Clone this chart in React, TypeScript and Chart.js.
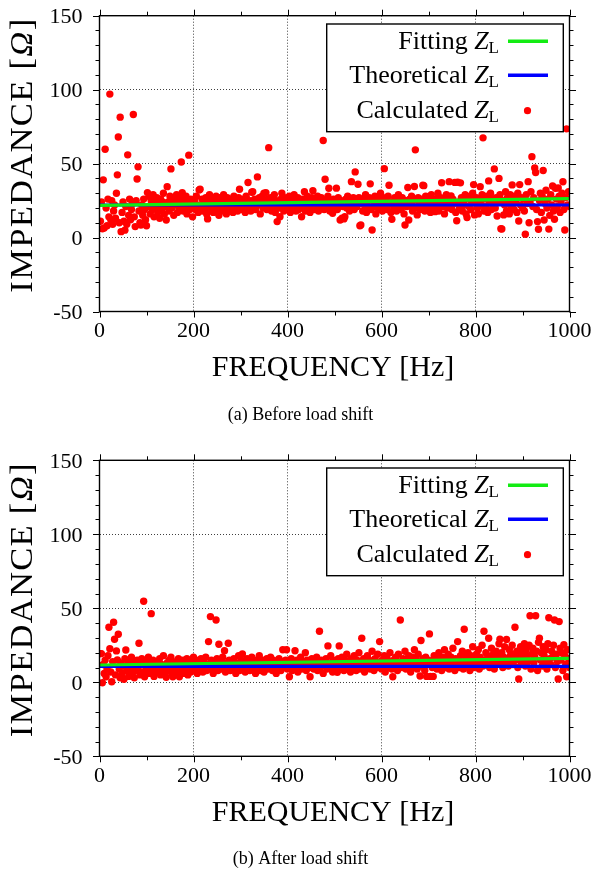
import React, { useEffect, useRef } from "react";
import { Chart, registerables } from "chart.js";
Chart.register(...registerables);

// ---------------- DATA ----------------
const freqHz = [
  2,4,6,8,10,12,14,16,18,20,22,24,26,28,30,32,34,36,38,40,
  42,44,46,48,50,52,54,56,58,60,62,64,66,68,70,72,74,76,78,80,
  82,84,86,88,90,92,94,96,98,100,102,104,106,108,110,112,114,116,118,120,
  122,124,126,128,130,132,134,136,138,140,142,144,146,148,150,152,154,156,158,160,
  162,164,166,168,170,172,174,176,178,180,182,184,186,188,190,192,194,196,198,200,
  202,204,206,208,210,212,214,216,218,220,222,224,226,228,230,232,234,236,238,240,
  242,244,246,248,250,252,254,256,258,260,262,264,266,268,270,272,274,276,278,280,
  282,284,286,288,290,292,294,296,298,300,302,304,306,308,310,312,314,316,318,320,
  322,324,326,328,330,332,334,336,338,340,342,344,346,348,350,352,354,356,358,360,
  362,364,366,368,370,372,374,376,378,380,382,384,386,388,390,392,394,396,398,400,
  402,404,406,408,410,412,414,416,418,420,422,424,426,428,430,432,434,436,438,440,
  442,444,446,448,450,452,454,456,458,460,462,464,466,468,470,472,474,476,478,480,
  482,484,486,488,490,492,494,496,498,500,502,504,506,508,510,512,514,516,518,520,
  522,524,526,528,530,532,534,536,538,540,542,544,546,548,550,552,554,556,558,560,
  562,564,566,568,570,572,574,576,578,580,582,584,586,588,590,592,594,596,598,600,
  602,604,606,608,610,612,614,616,618,620,622,624,626,628,630,632,634,636,638,640,
  642,644,646,648,650,652,654,656,658,660,662,664,666,668,670,672,674,676,678,680,
  682,684,686,688,690,692,694,696,698,700,702,704,706,708,710,712,714,716,718,720,
  722,724,726,728,730,732,734,736,738,740,742,744,746,748,750,752,754,756,758,760,
  762,764,766,768,770,772,774,776,778,780,782,784,786,788,790,792,794,796,798,800,
  802,804,806,808,810,812,814,816,818,820,822,824,826,828,830,832,834,836,838,840,
  842,844,846,848,850,852,854,856,858,860,862,864,866,868,870,872,874,876,878,880,
  882,884,886,888,890,892,894,896,898,900,902,904,906,908,910,912,914,916,918,920,
  922,924,926,928,930,932,934,936,938,940,942,944,946,948,950,952,954,956,958,960,
  962,964,966,968,970,972,974,976,978,980,982,984,986,988,990,992,994,996,998,1000,
];

// (a) Before load shift – calculated Z_L [ohm]
const calculatedBefore = [
  11,24,6,39,6.5,59.7,20,8,26,14, 97,12,25,9,18,22,13,30,42.4,68,
  10,81.4,4,17,24,11,5,21,9,55.9, 15,26,12,19,23,83.2,14,7.4,25,39.6,
  47.8,18,10,8.5,22,15,26,19,12,8, 30.4,21,27.7,16,25,19,29,14,23,20,
  27,17,22,13,26,19,24,30,16,21, 11.9,34.4,24,18,28,46.4,20,25,15,27,
  22,29,17,24,20,27,51.1,30.4,18,25, 21,28,16,23,55.7,19,26,22,14,24,
  25,19,28,22,17,32.2,32.7,21,26,18, 24,20,27,16,12.6,23,29,19,25,21,
  17,26,22,28,19,24,15,27,21,23, 18,29,22,25,16,27,20,24,19,26,
  22,17,28,23,20,25,18,27,32.7,21, 24,19,26,22,17,28,23,37.2,20,25,
  18,30.6,31,21,26,19,24,41,22,27, 16,23,28,20,30,25,30.4,19,26,60.8,
  22,27,18,24,21,29,17,25,10.8,23, 20,14.1,26,30,22,18,27,24,19,25,
  21,28,17,23,26,20,29,22,18,25, 27,19,24,21,14.1,26,22,31,18,24,
  28,20,25,17,23,27,31.7,21,19,26, 22,28,18,24,20,27,23,65.6,19,39.4,
  25,21,28,33.3,18,24,22,16.4,26,20, 23,33.4,19,27,22,11.9,25,13,21,12.6,
  14.1,26,20,28,23,18,25,37.8,22,27, 19,44.4,24,21,36,27,8,8.5,23,18,
  26,22,29,17,24,20,27,36.3,19,5.1, 25,21,28,16,23,26,19,24,30,22,
  18,27,46.6,21,25,19,28,35.4,23,17, 12.4,24,20,27,22,18,26,29,21,24,
  19,27,23,16,8.5,25,21,33.8,11.9,26, 22,28,18,25,34.5,59.3,20,15.3,27,23,
  19,26,22,35.4,35.1,18,28,24,20,27, 23,17,29,21,25,19,17.5,26,22,30,
  18,24,27,37.1,21,26,16,23,29,20, 25,37.8,22,28.1,19,26,23,37.3,17,11.4,
  37.4,24,20,37,27,18,25,22,29,16, 13.5,26,21,28,19,24,30,35.8,15.3,23,
  27,20,16,25,34.4,22,29,67.4,18,26, 21,28,17,38.3,24,30,19,26,22,46.4,
  20,27,14.6,24,40,29,6,5.8,25,15.3, 22,31,18,27,23,16,29,20,35.6,25,
  19,28,24,17,30,11.2,35.8,22,27,20, 26,18,2.2,29,23,37.8,10,24,31,54.7,
  21,27,47,44,19,10.8,5.6,25,30,17, 28,45.3,11.9,23,32,20,26,5.7,15,29,
  22,34.9,18,12.4,33.3,26,21,33.5,28,17, 24,30,37.7,19,5.1,27,73.5,22,31,21,
];

// (b) After load shift – calculated Z_L [ohm]
const calculatedAfter = [
  19.4,19.4,-0.3,12,6,15,3.8,9,18,37.2, 22.7,7,0.4,14,40.6,29.1,5,21.2,15.1,32.5,
  9,3,13,6,11,2,16,21.8,8,12, 4,14,9,17,6,11,3,13,8,15,
  10,26.4,5,12,16,7,54.8,3.8,11,14, 9,17,6,12,46.4,8,15,4,11,13,
  7,14,10,16,5,12,9,18,6,11, 3.4,13,8,15,10,17,6,3.8,12,9,
  14,7,11,16,3.8,13,8,10,15,6, 12,9,16,5,11,14,7,13,10,17,
  8,12,15,6,10,13,9,16,11,7, 14,10,17,8,12,27.5,9,44.4,15,11,
  6,13,10,42.1,16,8,25.7,12,14,9, 17,11,21.4,7,13,10,26.4,15,8,12,
  14,9,16,11,6,13,10,18,8,12, 15,19.1,9,13,7,11,16,10,14,8,
  12,17,9,14,11,6,15,10,13,18, 8,12,15,10,7,14,11,16,9,13,
  10,17,12,8,15,11,14,6,13,9, 16,11,8,14,22,12,10,15,22,9,
  13,3.8,11,16,8,14,12,21.3,10,15, 7,13,11,17,9,14,10,12,20,8,
  15,11,13,3.8,10,16,12,9,14,11, 17,8,13,34.5,10,15,12,6,14,11,
  16,9,24.6,13,10,18,12,7,15,11, 14,9,6.8,16,24.6,12,10,17,13,8,
  15,11,19,9,14,12,7,16,10,13, 18,11,8,15,12,20,9,14,29.8,11,
  16,7,13,10,18,12,15,9,14,21, 11,8,16,13,10,19,12,27.5,14,9,
  15,11,18,7,13,16,10,14,20,12, 9,3.8,15,11,17,13,8,19,12,42.1,
  14,10,16,12,21,9,15,11,18,13, 7,14,17,10,22,12,15,9,19,13,
  4.3,28.2,11,16,13,8,17,4,12,15, 32.7,4,14,10,4,18,12,16,9,14,
  20,11,15,8,17,13,22,10,16,12, 19,9,14,17,11,23,13,8,16,12,
  27.5,15,10,18,13,21,9,35.8,14,17, 11,20,15,8,18,13,24,10,16,12,
  19,14,22,9,17,13,25,11,34.5,15, 20,12,18,29.8,10,16,23,13,19,9,
  15,21,12,18,26,29.1,14,20,10,17, 24,13,29,16,11,22,18,14,25,12,
  19,37.2,15,21,10,2.2,17,24,13,20, 16,26,11,22,18,14,25,45,9,19,
  23,13,17,45,21,8,27,29.8,15,20, 11,24,18,14,22,9,26,43.6,16,12,
  21,17,25,42.1,10,19,14,2.2,41,23, 15,20,8,25.4,18,12,3.8,22,16,10,
];

// straight lines (endpoints)
const lineFreqHz = [0, 1000];
const fittingBefore = [21.8, 26.3];
const theoreticalBefore = [22, 22];
const fittingAfter = [11.7, 16.2];
const theoreticalAfter = [10.8, 10.8];

const xTickValues = [0, 200, 400, 600, 800, 1000];
const yTickValues = [-50, 0, 50, 100, 150];
const xMinorStep = 100;
const yMinorStep = 10;

const legendNames = ["Fitting", "Theoretical", "Calculated"];
const captions = ["(a) Before load shift", "(b) After load shift"];

// ---------------- DRAWING ----------------
const SERIF = "'Liberation Serif', 'Times New Roman', serif";
const W = 594;

type Run = { text: string; font: string; dy?: number };

function drawRuns(ctx: CanvasRenderingContext2D, runs: Run[], x: number, y: number, align: "left" | "center" | "right") {
  ctx.textAlign = "left";
  let total = 0;
  const widths = runs.map((r) => {
    ctx.font = r.font;
    const w = ctx.measureText(r.text).width;
    total += w;
    return w;
  });
  let cx = align === "left" ? x : align === "center" ? x - total / 2 : x - total;
  runs.forEach((r, i) => {
    ctx.font = r.font;
    ctx.fillText(r.text, cx, y + (r.dy || 0));
    cx += widths[i];
  });
}

interface PanelSpec {
  height: number;
  top: number;
  bottom: number;
  calc: number[];
  fit: number[];
  theo: number[];
  caption: string;
}

function decorPlugin(p: PanelSpec) {
  return {
    id: "decor",
    afterDraw(chart: any) {
      const ctx: CanvasRenderingContext2D = chart.ctx;
      const a = chart.chartArea;
      const xs = chart.scales.x;
      const ys = chart.scales.y;
      ctx.save();
      ctx.fillStyle = "#000";
      ctx.strokeStyle = "#000";

      // tick marks (outward) on all four sides
      ctx.lineWidth = 1;
      ctx.beginPath();
      for (let v = xs.min; v <= xs.max + 1e-6; v += xMinorStep) {
        const px = Math.round(xs.getPixelForValue(v)) + 0.5;
        const len = xTickValues.includes(v) ? 6 : 4;
        ctx.moveTo(px, a.bottom);
        ctx.lineTo(px, a.bottom + len);
        ctx.moveTo(px, a.top);
        ctx.lineTo(px, a.top - len);
      }
      for (let v = ys.min; v <= ys.max + 1e-6; v += yMinorStep) {
        const py = Math.round(ys.getPixelForValue(v)) + 0.5;
        const len = yTickValues.includes(v) ? 6.5 : 4;
        ctx.moveTo(a.left, py);
        ctx.lineTo(a.left - len, py);
        ctx.moveTo(a.right, py);
        ctx.lineTo(a.right + len, py);
      }
      ctx.stroke();

      // frame
      ctx.lineWidth = 1.4;
      ctx.strokeRect(a.left, a.top, a.right - a.left, a.bottom - a.top);

      // tick labels
      ctx.font = `22px ${SERIF}`;
      ctx.textAlign = "center";
      ctx.textBaseline = "alphabetic";
      xs.ticks.forEach((t: any) => {
        ctx.fillText(String(t.value), xs.getPixelForValue(t.value), a.bottom + 25.8);
      });
      ctx.textAlign = "right";
      ys.ticks.forEach((t: any) => {
        ctx.fillText(String(t.value), a.left - 17, ys.getPixelForValue(t.value) + 7.4);
      });

      // axis titles
      const T = `30px ${SERIF}`;
      drawRuns(ctx, [{ text: "FREQUENCY [Hz]", font: T }], (a.left + a.right) / 2 - 1.5, a.bottom + 64.5, "center");
      ctx.save();
      ctx.translate(32.3, (a.top + a.bottom) / 2 - 8.5);
      ctx.rotate(-Math.PI / 2);
      ctx.scale(1.08, 1);
      (ctx as any).letterSpacing = "1.2px";
      const YT = `32px ${SERIF}`;
      const YTI = `italic 32px ${SERIF}`;
      drawRuns(ctx, [
        { text: "IMPEDANCE [", font: YT },
        { text: "Ω", font: YTI },
        { text: "]", font: YT },
      ], 0, 0, "center");
      (ctx as any).letterSpacing = "0px";
      ctx.restore();

      // legend
      const lx0 = 326.7, ly0 = 24, lx1 = 563.3, ly1 = 131.7;
      ctx.fillStyle = "#fff";
      ctx.fillRect(lx0, ly0, lx1 - lx0, ly1 - ly0);
      ctx.lineWidth = 1.4;
      ctx.strokeRect(lx0, ly0, lx1 - lx0, ly1 - ly0);
      const ds = chart.data.datasets;
      const rowBase = [49.3, 83.3, 118.3];
      const LF = `26px ${SERIF}`;
      const LFI = `italic 26px ${SERIF}`;
      const LFS = `17px ${SERIF}`;
      legendNames.forEach((name, i) => {
        ctx.fillStyle = "#000";
        drawRuns(ctx, [
          { text: name + " ", font: LF },
          { text: "Z", font: LFI },
          { text: "L", font: LFS, dy: 4 },
        ], 499, rowBase[i], "right");
        const d = ds.find((q: any) => q.label === name);
        if (name === "Calculated") {
          ctx.fillStyle = d.backgroundColor;
          ctx.beginPath();
          ctx.arc(527.5, 110.7, 3.6, 0, Math.PI * 2);
          ctx.fill();
        } else {
          ctx.strokeStyle = d.borderColor;
          ctx.lineWidth = 3.5;
          ctx.beginPath();
          ctx.moveTo(508, rowBase[i] - 8);
          ctx.lineTo(548, rowBase[i] - 8);
          ctx.stroke();
        }
      });

      // caption
      ctx.fillStyle = "#000";
      drawRuns(ctx, [{ text: p.caption, font: `18px ${SERIF}` }], 300.5, 419.5, "center");
      ctx.restore();
    },
  };
}

function makeConfig(p: PanelSpec): any {
  const H = p.height;
  return {
    type: "scatter",
    data: {
      datasets: [
        {
          label: legendNames[0],
          data: lineFreqHz.map((x, i) => ({ x, y: p.fit[i] })),
          showLine: true,
          borderColor: "#13ec13",
          backgroundColor: "#13ec13",
          borderWidth: 3.2,
          pointRadius: 0,
          order: 0,
        },
        {
          label: legendNames[1],
          data: lineFreqHz.map((x, i) => ({ x, y: p.theo[i] })),
          showLine: true,
          borderColor: "#0000ff",
          backgroundColor: "#0000ff",
          borderWidth: 3.2,
          pointRadius: 0,
          order: 1,
        },
        {
          label: legendNames[2],
          data: freqHz.map((x, i) => ({ x, y: p.calc[i] })),
          backgroundColor: "#ff0000",
          borderColor: "#ff0000",
          borderWidth: 0,
          pointRadius: 3.7,
          order: 2,
        },
      ],
    },
    options: {
      responsive: false,
      animation: false,
      events: [],
      layout: { padding: { top: p.top, right: W - 569.5, left: 0, bottom: 0 } },
      plugins: { legend: { display: false }, tooltip: { enabled: false }, title: { display: false } },
      scales: {
        x: {
          type: "linear",
          min: 0,
          max: 1000,
          afterBuildTicks: (s: any) => {
            s.ticks = xTickValues.map((v) => ({ value: v }));
          },
          ticks: { display: false },
          grid: { color: "rgba(0,0,0,0.75)", lineWidth: 1, drawTicks: false },
          border: { display: false, dash: [1, 2] },
          afterFit: (s: any) => {
            s.height = H - p.bottom;
          },
        },
        y: {
          type: "linear",
          min: -50,
          max: 150,
          afterBuildTicks: (s: any) => {
            s.ticks = yTickValues.map((v) => ({ value: v }));
          },
          ticks: { display: false },
          grid: { color: "rgba(0,0,0,0.75)", lineWidth: 1, drawTicks: false },
          border: { display: false, dash: [1, 2] },
          afterFit: (s: any) => {
            s.width = 99.5;
          },
        },
      },
    },
    plugins: [decorPlugin(p)],
  };
}

const panels: PanelSpec[] = [
  { height: 444, top: 15.7, bottom: 311.5, calc: calculatedBefore, fit: fittingBefore, theo: theoreticalBefore, caption: captions[0] },
  { height: 426, top: 16.3, bottom: 312.3, calc: calculatedAfter, fit: fittingAfter, theo: theoreticalAfter, caption: captions[1] },
];

function Panel({ spec, top }: { spec: PanelSpec; top: number }) {
  const ref = useRef<HTMLCanvasElement | null>(null);
  useEffect(() => {
    if (!ref.current) return;
    const chart = new Chart(ref.current, makeConfig(spec));
    return () => chart.destroy();
  }, [spec]);
  return (
    <canvas
      ref={ref}
      width={W}
      height={spec.height}
      style={{ position: "absolute", left: 0, top, width: W, height: spec.height, display: "block" }}
    />
  );
}

export default function App() {
  useEffect(() => {
    document.body.style.margin = "0";
    document.body.style.background = "#fff";
  }, []);
  return (
    <div style={{ position: "relative", width: W, height: 870, background: "#fff", overflow: "hidden" }}>
      <Panel spec={panels[0]} top={0} />
      <Panel spec={panels[1]} top={444} />
    </div>
  );
}
